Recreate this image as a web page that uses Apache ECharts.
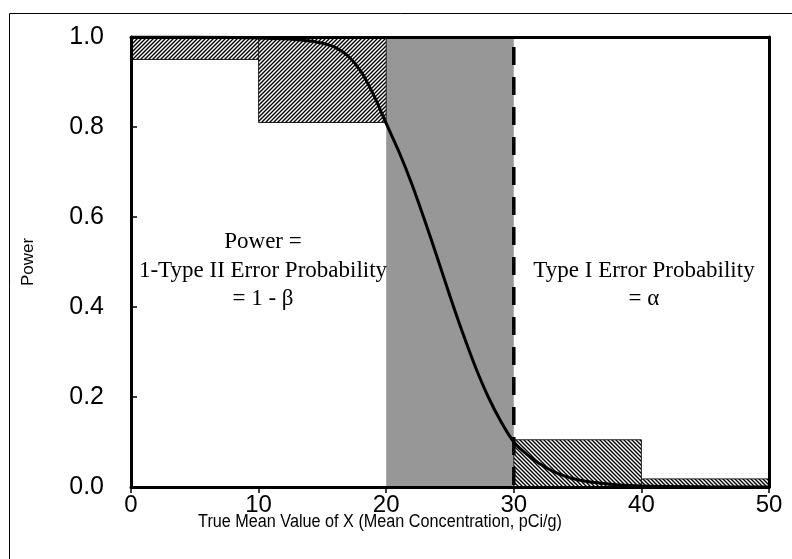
<!DOCTYPE html>
<html>
<head>
<meta charset="utf-8">
<script src="https://cdn.jsdelivr.net/npm/echarts@6/dist/echarts.min.js"></script>
<style>
html,body{margin:0;padding:0;background:#fff;}
#chart{width:792px;height:559px;}
</style>
</head>
<body>
<div id="chart"></div>
<script>
// ---- data ----
const curveX = [0, 5, 8, 10, 12, 13, 14, 15, 16, 17, 18, 19, 20, 21, 22, 23, 24, 25, 26, 27, 28, 29, 30, 31, 32, 33, 34, 35, 36, 38, 40, 45, 50];
const curvePower = [1.0, 1.0, 0.999, 0.998, 0.996, 0.994, 0.991, 0.986, 0.977, 0.958, 0.924, 0.872, 0.808, 0.745, 0.674, 0.594, 0.51, 0.424, 0.342, 0.266, 0.2, 0.145, 0.1, 0.073, 0.052, 0.036, 0.024, 0.016, 0.011, 0.005, 0.002, 0.0005, 0.0];
// hatched blocks: [xStart, xEnd, yLow, yHigh]
const powerBlocks = [[0, 10, 0.95, 1.0], [10, 20, 0.81, 1.0]];
const typeIBlocks = [[30, 40, 0.0, 0.105], [40, 50, 0.0, 0.018]];
// gray region between action levels: [xStart, xEnd, yLow, yHigh]
const grayRegion = [20, 30, 0.0, 1.0];
const criticalX = 30;
const xAxisTitle = 'True Mean Value of X (Mean Concentration, pCi/g)';
const yAxisTitle = 'Power';
const leftText = ['Power =', '1-Type II Error Probability', '= 1 - \u03B2'];
const rightText = ['Type I Error Probability', '= \u03B1'];

function hatch(dir) {
  const s = 4;
  const c = document.createElement('canvas');
  c.width = s; c.height = s;
  const g = c.getContext('2d');
  g.fillStyle = '#fff'; g.fillRect(0, 0, s, s);
  g.strokeStyle = '#000'; g.lineWidth = 1.4;
  g.beginPath();
  if (dir === '/') {
    g.moveTo(-1, s + 1); g.lineTo(s + 1, -1);
    g.moveTo(-1, 1); g.lineTo(1, -1);
    g.moveTo(s - 1, s + 1); g.lineTo(s + 1, s - 1);
  } else {
    g.moveTo(-1, -1); g.lineTo(s + 1, s + 1);
    g.moveTo(s - 1, -1); g.lineTo(s + 1, 1);
    g.moveTo(-1, s - 1); g.lineTo(1, s + 1);
  }
  g.stroke();
  return {image: c, repeat: 'repeat'};
}

const fwd = hatch('/');
const back = hatch('\\');

function areaItems(blocks, fill) {
  return blocks.map(b => [
    {xAxis: b[0], yAxis: b[2], itemStyle: {color: fill, borderColor: '#222', borderWidth: 1}},
    {xAxis: b[1], yAxis: b[3]}
  ]);
}

const chart = echarts.init(document.getElementById('chart'), null, {renderer: 'canvas'});
const font = 'Liberation Sans, Arial, sans-serif';
const serif = 'Liberation Serif, Times New Roman, serif';

function label(text, x, y) {
  return {type: 'text', x: x, y: y, z: 100,
    style: {text: text, font: '23px ' + serif, fill: '#000', textAlign: 'center', textVerticalAlign: 'middle'}};
}

chart.setOption({
  animation: false,
  backgroundColor: '#fff',
  grid: {left: 131, right: 23, top: 37, bottom: 72},
  xAxis: [{
    type: 'value', min: 0, max: 50, interval: 10, z: 10,
    axisLine: {lineStyle: {color: '#000', width: 3}},
    axisTick: {inside: false, length: 6, lineStyle: {color: '#000', width: 1.5}},
    axisLabel: {fontFamily: font, fontSize: 24, color: '#000', margin: 6},
    splitLine: {show: false}
  }, {
    type: 'value', position: 'top', min: 0, max: 50, z: 10,
    axisLine: {show: true, onZero: false, lineStyle: {color: '#000', width: 3}},
    axisTick: {show: false}, axisLabel: {show: false}, splitLine: {show: false}
  }],
  yAxis: [{
    type: 'value', min: 0, max: 1, interval: 0.2, z: 10,
    name: yAxisTitle, nameLocation: 'middle', nameGap: 94, nameRotate: 90,
    nameTextStyle: {fontFamily: font, fontSize: 17, color: '#000'},
    axisLine: {show: true, lineStyle: {color: '#000', width: 3}},
    axisTick: {show: true, inside: true, length: 6, lineStyle: {color: '#000', width: 1.5}},
    axisLabel: {fontFamily: font, fontSize: 25, color: '#000', margin: 27, formatter: v => v.toFixed(1)},
    splitLine: {show: false}
  }, {
    type: 'value', position: 'right', min: 0, max: 1, z: 10,
    axisLine: {show: true, onZero: false, lineStyle: {color: '#000', width: 3}},
    axisTick: {show: false}, axisLabel: {show: false}, splitLine: {show: false}
  }],
  graphic: [
    {type: 'rect', left: 7, top: 11, z: -10, shape: {width: 800, height: 560}, style: {fill: 'none', stroke: '#000', lineWidth: 1}},
    {type: 'text', x: 380, y: 522, scaleX: 0.9, style: {text: xAxisTitle, font: '18px ' + font, fill: '#000', textAlign: 'center', textVerticalAlign: 'middle'}},
    label(leftText[0], 263, 242),
    label(leftText[1], 263, 271),
    label(leftText[2], 263, 299),
    label(rightText[0], 644, 271),
    label(rightText[1], 644, 299)
  ],
  series: [
    {
      type: 'line', data: [], z: 1,
      markArea: {silent: true, data: [[
        {xAxis: grayRegion[0], yAxis: grayRegion[2], itemStyle: {color: '#979797'}},
        {xAxis: grayRegion[1], yAxis: grayRegion[3]}
      ]]}
    },
    {
      type: 'line', data: [], z: 2,
      markArea: {silent: true, data: areaItems(powerBlocks, fwd).concat(areaItems(typeIBlocks, back))}
    },
    {
      type: 'line', z: 4, symbol: 'none', smooth: 0.3,
      lineStyle: {color: '#000', width: 3},
      data: curveX.map((x, i) => [x, curvePower[i]])
    },
    {
      type: 'line', z: 5, symbol: 'none',
      lineStyle: {color: '#000', width: 3.5, type: [18, 12], dashOffset: 20},
      data: [[criticalX, 1], [criticalX, 0]]
    }
  ]
});
</script>
</body>
</html>
